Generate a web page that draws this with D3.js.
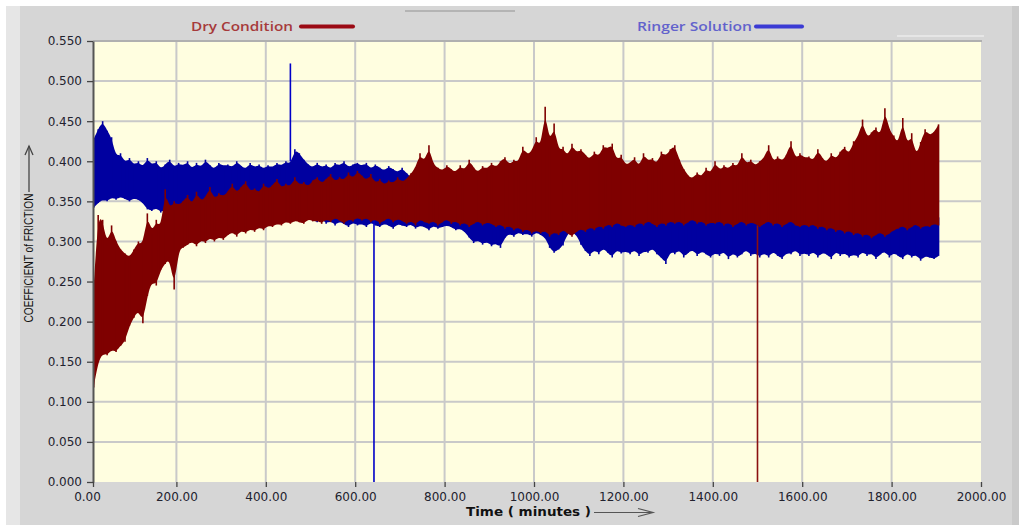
<!DOCTYPE html>
<html><head><meta charset="utf-8">
<script src="https://cdn.jsdelivr.net/npm/d3@7"></script>
<style>body{margin:0;background:#fff;}svg{display:block}</style>
</head><body><svg id="c" width="1019" height="525"></svg>
<script>
// ---------------- DATA ----------------
const seriesNames = ["Dry Condition", "Ringer Solution"];
// envelope samples (upper / lower limits of the noisy traces), every 10 min starting at 15 min
const sampleStart = 15, sampleStep = 10;
const dryHi = [
 .245,.333,.327,.295,.320,.300,.290,.285,.280,.290,
 .300,.295,.335,.310,.327,.315,.365,.340,.350,.345,
 .350,.358,.345,.362,.350,.355,.368,.352,.360,.356,
 .362,.372,.360,.368,.375,.362,.366,.360,.372,.365,
 .370,.378,.366,.372,.368,.380,.370,.374,.368,.376,
 .380,.372,.378,.384,.374,.380,.376,.386,.378,.388,
 .382,.376,.384,.372,.378,.370,.376,.372,.380,.374,
 .378,.385,.392,.410,.398,.420,.395,.392,.388,.395,
 .390,.386,.395,.388,.402,.392,.386,.394,.390,.398,
 .392,.400,.405,.395,.402,.398,.418,.408,.412,.430,
 .415,.468,.420,.447,.412,.418,.405,.422,.410,.415,
 .408,.402,.412,.405,.420,.415,.422,.400,.408,.395,
 .398,.405,.392,.410,.400,.404,.396,.412,.406,.415,
 .420,.402,.390,.382,.378,.386,.380,.392,.384,.400,
 .388,.395,.390,.398,.392,.410,.396,.402,.394,.400,
 .404,.420,.398,.406,.400,.408,.425,.402,.410,.404,
 .406,.400,.415,.404,.398,.410,.402,.412,.418,.408,
 .425,.430,.452,.428,.436,.442,.430,.466,.438,.432,
 .420,.454,.418,.435,.405,.424,.440,.432,.436,.446
];
const dryLo = [
 .118,.150,.160,.158,.165,.162,.170,.175,.195,.205,
 .215,.198,.232,.250,.245,.265,.272,.280,.240,.290,
 .292,.296,.300,.294,.302,.298,.305,.300,.306,.302,
 .308,.312,.306,.314,.310,.316,.312,.318,.314,.320,
 .318,.322,.320,.325,.322,.326,.324,.322,.328,.325,
 .326,.322,.328,.324,.330,.326,.322,.328,.325,.330,
 .326,.330,.324,.328,.322,.326,.330,.324,.328,.326,
 .322,.326,.320,.328,.324,.322,.326,.320,.324,.328,
 .322,.326,.320,.324,.318,.322,.326,.320,.324,.322,
 .318,.322,.316,.320,.314,.318,.312,.316,.310,.314,
 .310,.314,.306,.312,.308,.315,.310,.306,.312,.316,
 .312,.318,.314,.320,.316,.322,.318,.324,.320,.318,
 .322,.318,.324,.320,.326,.322,.318,.324,.320,.326,
 .322,.326,.320,.324,.328,.322,.326,.320,.324,.322,
 .326,.320,.324,.318,.322,.326,.320,.324,.322,.318,
 .322,.326,.320,.324,.318,.322,.326,.320,.318,.322,
 .318,.322,.316,.320,.314,.318,.312,.316,.310,.314,
 .308,.312,.306,.310,.304,.308,.312,.306,.310,.314,
 .316,.320,.314,.318,.322,.316,.320,.318,.322,.320
];
const ringerHi = [
 .428,.440,.450,.438,.430,.405,.410,.398,.404,.395,
 .400,.392,.404,.395,.400,.390,.396,.402,.392,.398,
 .394,.400,.390,.398,.392,.402,.395,.390,.398,.394,
 .396,.392,.400,.394,.390,.398,.392,.396,.390,.395,
 .392,.398,.394,.400,.396,.415,.410,.402,.396,.392,
 .398,.392,.396,.390,.398,.394,.400,.392,.396,.398,
 .394,.398,.390,.396,.392,.388,.394,.390,.386,.392,
 .385,.380,.378,.375,.372,.370,.368,.366,.365,.362,
 .360,.358,.355,.352,.350,.348,.345,.343,.342,.340,
 .340,.342,.340,.338,.340,.342,.340,.338,.340,.338,
 .336,.338,.334,.336,.338,.336,.334,.332,.334,.332,
 .332,.328,.334,.330,.336,.328,.332,.334,.330,.336,
 .330,.334,.328,.336,.330,.332,.328,.334,.330,.332,
 .334,.328,.332,.336,.330,.334,.328,.332,.336,.330,
 .332,.336,.330,.334,.328,.332,.336,.330,.334,.328,
 .334,.330,.336,.328,.332,.334,.330,.336,.332,.328,
 .330,.334,.328,.332,.336,.330,.334,.328,.332,.336,
 .326,.330,.324,.328,.332,.326,.330,.334,.328,.332,
 .330,.334,.328,.332,.336,.330,.334,.328,.332,.330
];
const ringerLo = [
 .342,.348,.352,.350,.355,.352,.356,.353,.350,.354,
 .352,.348,.340,.338,.342,.336,.340,.345,.342,.348,
 .344,.340,.346,.342,.338,.344,.340,.342,.338,.342,
 .336,.338,.334,.336,.332,.335,.338,.334,.336,.332,
 .330,.334,.328,.332,.330,.326,.332,.328,.330,.326,
 .324,.328,.322,.326,.320,.325,.322,.318,.324,.320,
 .322,.318,.324,.320,.318,.322,.320,.316,.322,.320,
 .318,.322,.316,.320,.318,.314,.320,.316,.318,.320,
 .318,.314,.316,.312,.305,.298,.302,.296,.300,.294,
 .298,.292,.305,.310,.306,.312,.308,.310,.306,.312,
 .308,.305,.292,.286,.290,.295,.310,.312,.308,.296,
 .288,.282,.290,.284,.292,.286,.280,.290,.285,.288,
 .284,.290,.282,.288,.286,.292,.284,.280,.272,.288,
 .284,.290,.280,.286,.290,.282,.288,.284,.280,.286,
 .282,.288,.278,.286,.280,.284,.290,.282,.286,.280,
 .286,.280,.288,.282,.278,.286,.284,.290,.282,.286,
 .282,.288,.280,.286,.284,.278,.288,.282,.286,.280,
 .284,.280,.288,.282,.286,.278,.284,.288,.280,.286,
 .282,.278,.286,.280,.284,.276,.282,.280,.278,.282
];
// isolated single-sample spikes
const spikeSeries = ["Ringer Solution", "Ringer Solution", "Dry Condition"];
const spikeTime = [455, 642, 1500];
const spikeFrom = [0.400, 0.330, 0.320];
const spikeTo = [0.522, 0.000, 0.000];
// axis ticks
const xTicks = [0, 200, 400, 600, 800, 1000, 1200, 1400, 1600, 1800, 2000];
const yTicks = [0, 0.05, 0.10, 0.15, 0.20, 0.25, 0.30, 0.35, 0.40, 0.45, 0.50, 0.55];
const xTitle = "Time ( minutes )";
const yTitle = "COEFFICIENT of FRICTION";

// ---------------- DRAW ----------------
const colors = {"Dry Condition": "#7f0000", "Ringer Solution": "#0000a0"};
const svg = d3.select("#c");
const L = 93, R = 981, T = 41, B = 482;
const x = d3.scaleLinear().domain([0, 2000]).range([87, 981]);
const y = d3.scaleLinear().domain([0, 0.55]).range([B, T]);

// frame
svg.append("rect").attr("x", 6).attr("y", 6).attr("width", 1013).attr("height", 519).attr("fill", "#d6d6d6");
svg.append("rect").attr("x", 6).attr("y", 6).attr("width", 14).attr("height", 519).attr("fill", "#e6e6e6");
svg.append("rect").attr("x", 1012).attr("y", 6).attr("width", 7).attr("height", 519).attr("fill", "#cacaca");
svg.append("line").attr("x1", 405).attr("x2", 515).attr("y1", 11).attr("y2", 11).attr("stroke", "#b4b4b4").attr("stroke-width", 2);
svg.append("line").attr("x1", 897).attr("x2", 984).attr("y1", 36).attr("y2", 36).attr("stroke", "#e6e6e6").attr("stroke-width", 2);

// plot background
svg.append("rect").attr("x", L).attr("y", T).attr("width", R - L).attr("height", B - T).attr("fill", "#fffee0");
svg.append("defs").append("clipPath").attr("id", "clip")
  .append("rect").attr("x", L).attr("y", T).attr("width", R - L).attr("height", B - T);

// grid
const grid = svg.append("g").attr("stroke", "#c9c9c9").attr("stroke-width", 2);
grid.selectAll(".gx").data(xTicks.filter(d => x(d) > L + 2 && x(d) < R - 2)).join("line")
  .attr("x1", d => x(d)).attr("x2", d => x(d)).attr("y1", T).attr("y2", B);
grid.selectAll(".gy").data(yTicks.filter(d => y(d) > T + 2 && y(d) < B - 2)).join("line")
  .attr("x1", L).attr("x2", R).attr("y1", d => y(d)).attr("y2", d => y(d));
svg.append("line").attr("x1", L).attr("x2", R + 1).attr("y1", T).attr("y2", T).attr("stroke", "#b0b0b0").attr("stroke-width", 2);

// series: a smoothed core band plus one vertical stroke per sample reaching the envelope
const plot = svg.append("g").attr("clip-path", "url(#clip)");
function band(hi, lo) {
  return hi.map((h, i) => ({t: sampleStart + i * sampleStep, hi: h, lo: lo[i]}));
}
const coreArea = d3.area().x(d => x(d.t)).y0(d => y(d.lo)).y1(d => y(d.hi)).curve(d3.curveBasis);
const bands = [
  {name: "Ringer Solution", data: band(ringerHi, ringerLo)},
  {name: "Dry Condition", data: band(dryHi, dryLo)}
];
bands.forEach(b => {
  const g = plot.append("g");
  g.append("path").datum(b.data).attr("d", coreArea).attr("fill", colors[b.name]);
  g.selectAll("line.s").data(b.data).join("line").attr("class", "s")
    .attr("x1", d => x(d.t)).attr("x2", d => x(d.t))
    .attr("y1", d => y(d.lo)).attr("y2", d => y(d.hi))
    .attr("stroke", colors[b.name]).attr("stroke-width", 1.6);
  spikeSeries.forEach((s, i) => {
    if (s !== b.name) return;
    g.append("line").attr("x1", x(spikeTime[i])).attr("x2", x(spikeTime[i]))
      .attr("y1", y(spikeFrom[i])).attr("y2", y(spikeTo[i]))
      .attr("stroke", s === "Dry Condition" ? "#8a1010" : "#0000c8").attr("stroke-width", 1.6);
  });
});

// y axis
const yAxis = svg.append("g").attr("transform", `translate(${L},0)`)
  .call(d3.axisLeft(y).tickValues(yTicks).tickFormat(d3.format(".3f")).tickSize(6).tickSizeOuter(0).tickPadding(5));
yAxis.select(".domain").attr("stroke", "#555").attr("stroke-width", 2);
yAxis.selectAll(".tick line").attr("stroke", "#444").attr("stroke-width", 1.3);
yAxis.selectAll(".tick text").attr("fill", "#22222e").style("font", "12px 'DejaVu Sans', sans-serif");

// x axis
const xAxis = svg.append("g").attr("transform", `translate(0,${B})`)
  .call(d3.axisBottom(x).tickValues(xTicks).tickFormat(d3.format(".2f")).tickSize(5).tickSizeOuter(0).tickPadding(5));
xAxis.select(".domain").remove();
xAxis.selectAll(".tick line").attr("stroke", "#444").attr("stroke-width", 1.3);
xAxis.selectAll(".tick").filter(d => d === 0).select("line").attr("x1", L - x(0)).attr("x2", L - x(0));
xAxis.selectAll(".tick text").attr("fill", "#22222e").style("font", "12px 'DejaVu Sans', sans-serif");

// axis titles
svg.append("text").attr("x", 466).attr("y", 516).attr("textLength", 125).attr("lengthAdjust", "spacingAndGlyphs")
  .style("font", "bold 13px 'DejaVu Sans', sans-serif").attr("fill", "#111").text(xTitle);
const arrowG = svg.append("g").attr("stroke", "#555").attr("stroke-width", 1.2).attr("fill", "none");
arrowG.append("line").attr("x1", 594).attr("x2", 653).attr("y1", 512.5).attr("y2", 512.5);
arrowG.append("polyline").attr("points", "638,508.5 653,512.5 638,516.5");

svg.append("text").attr("transform", "translate(33,258) rotate(-90)").attr("text-anchor", "middle")
  .attr("textLength", 129).attr("lengthAdjust", "spacingAndGlyphs")
  .style("font", "13px 'Liberation Sans Narrow', 'Liberation Sans', sans-serif").attr("fill", "#111").text(yTitle);
const yArrow = svg.append("g").attr("stroke", "#444").attr("stroke-width", 1.3).attr("fill", "none");
yArrow.append("line").attr("x1", 29).attr("x2", 29).attr("y1", 192).attr("y2", 146);
yArrow.append("polyline").attr("points", "25,155 29,146 33,155");

// legends
const legend = [
  {name: seriesNames[0], tx: 191, tw: 102, lx1: 301, lx2: 353, text: "#a63a3a", line: "#9b0a14"},
  {name: seriesNames[1], tx: 637, tw: 115, lx1: 756, lx2: 802, text: "#6262cc", line: "#3b3bd4"}
];
legend.forEach(l => {
  svg.append("text").attr("x", l.tx).attr("y", 30.5).attr("textLength", l.tw).attr("lengthAdjust", "spacingAndGlyphs")
    .style("font", "600 12.5px 'Open Sans', sans-serif").attr("fill", l.text).text(l.name);
  svg.append("line").attr("x1", l.lx1).attr("x2", l.lx2).attr("y1", 26.5).attr("y2", 26.5)
    .attr("stroke", l.line).attr("stroke-width", 4).attr("stroke-linecap", "round");
});
</script></body></html>
